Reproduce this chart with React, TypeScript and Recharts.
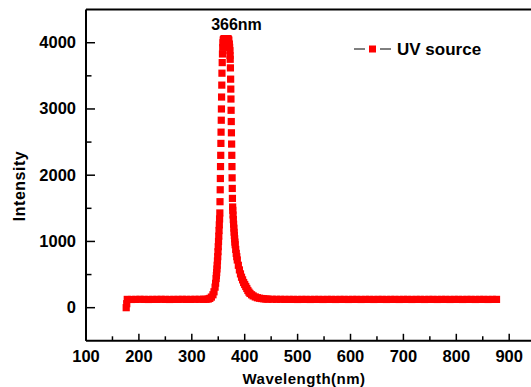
import { LineChart, Line, XAxis, YAxis, ReferenceLine } from 'recharts';

// spectrum of the UV source as [wavelength nm, intensity]
const startSegment: [number, number][] = [
  [176, 0], [177, 60], [178, 125], [186, 124], [194, 125], [202, 126], [210, 125],
  [218, 124], [226, 125], [234, 125], [242, 126], [250, 125], [258, 124], [266, 125],
  [274, 125], [282, 126], [290, 125], [298, 125], [306, 126], [314, 126], [322, 127],
];

const footLeft: [number, number][] = [
  [327, 127], [331, 130], [334, 140], [337, 160], [340, 195], [342, 240], [344, 310],
  [345, 370], [346, 440], [346.5, 485], [347, 530], [347.5, 585], [348, 640], [348.5, 705],
  [349, 770], [349.5, 845], [350, 920], [350.5, 1000], [351, 1080], [351.5, 1165],
  [352, 1250], [352.5, 1340],
];

const riseSegment: [number, number][] = [
  [353, 1430], [353.3, 1600], [353.7, 1780], [354, 1950], [354.3, 2130], [354.7, 2300],
  [355, 2480], [355.3, 2650], [355.7, 2830], [356, 3000], [356.3, 3180], [356.7, 3360],
  [357, 3540], [357.5, 3700], [358, 3830], [358.5, 3930], [359, 4000], [359.5, 4040],
];

const topSegment: [number, number][] = [
  [360, 4050], [361, 4060], [362, 4060], [363, 4060], [364, 4060], [365, 4060],
  [366, 4060], [367, 4060], [368, 4060], [369, 4055], [370, 4040],
];

const fallSegment: [number, number][] = [
  [371, 3980], [371.5, 3930], [372, 3880], [372.3, 3810], [372.6, 3750], [373, 3620],
  [373.4, 3450], [373.7, 3300], [374, 3150], [374.3, 2980], [374.6, 2810], [374.9, 2640],
  [375.3, 2470], [375.6, 2300], [375.9, 2130], [376.2, 1960], [376.5, 1800], [376.8, 1650],
  [377.2, 1520], [377.5, 1470], [378, 1400], [378.5, 1330], [379, 1260], [379.5, 1200],
  [380, 1140], [380.5, 1090], [381, 1040], [381.5, 990], [382, 950], [383, 880],
  [384, 820], [385, 770], [386, 720], [388, 640], [390, 570], [392, 510], [394, 460],
  [396, 420], [398, 380], [400, 350], [402, 320], [404, 290], [406, 260], [408, 235],
  [410, 215], [413, 195], [416, 178], [420, 162], [424, 150], [428, 143], [432, 138],
  [436, 134], [440, 131],
];

const tailSegment: [number, number][] = [
  [444, 129], [452, 127], [460, 126], [468, 126], [476, 125], [484, 125], [492, 125],
  [500, 124], [508, 125], [516, 125], [524, 124], [532, 125], [540, 125], [548, 124],
  [556, 125], [564, 125], [572, 124], [580, 125], [588, 125], [596, 124], [604, 125],
  [612, 125], [620, 124], [628, 125], [636, 125], [644, 124], [652, 125], [660, 125],
  [668, 124], [676, 125], [684, 125], [692, 124], [700, 125], [708, 125], [716, 124],
  [724, 125], [732, 125], [740, 124], [748, 125], [756, 125], [764, 124], [772, 125],
  [780, 125], [788, 124], [796, 125], [804, 125], [812, 124], [820, 125], [828, 125],
  [836, 124], [844, 125], [852, 125], [860, 124], [868, 125], [876, 125],
];

const xTicks = [100, 150, 200, 250, 300, 350, 400, 450, 500, 550, 600, 650, 700, 750, 800, 850, 900];
const yTicks = [0, 500, 1000, 1500, 2000, 2500, 3000, 3500, 4000];

const peakLabel = '366nm';
const seriesName = 'UV source';

const data = [...startSegment, ...footLeft, ...riseSegment, ...topSegment, ...fallSegment, ...tailSegment]
  .map(([nm, value]) => ({ nm, value }));

const font = '"Liberation Sans", Arial, sans-serif';

const XTick = (props: any) => {
  const { x, y, payload } = props;
  const major = payload.value % 100 === 0;
  return (
    <g>
      <line x1={x} x2={x} y1={y} y2={y - (major ? 7 : 4.5)} stroke="#000" strokeWidth={1.5} />
      {major && (
        <text x={x} y={y + 21} textAnchor="middle" fontFamily={font} fontWeight="bold" fontSize={16.5} fill="#000">
          {payload.value}
        </text>
      )}
    </g>
  );
};

const YTick = (props: any) => {
  const { x, y, payload } = props;
  const major = payload.value % 1000 === 0;
  return (
    <g>
      <line x1={x} x2={x + (major ? 9 : 5.5)} y1={y} y2={y} stroke="#000" strokeWidth={1.5} />
      {major && (
        <text x={x - 10} y={y + 5.5} textAnchor="end" fontFamily={font} fontWeight="bold" fontSize={16.5} fill="#000">
          {payload.value}
        </text>
      )}
    </g>
  );
};

const renderSquare = (p: any) => {
  if (p.cx == null || p.cy == null) return <g key={`sq-${p.index}`} />;
  return <rect key={`sq-${p.index}`} x={p.cx - 3.6} y={p.cy - 3.6} width={7.2} height={7.2} fill="#ff0000" />;
};

export default function App() {
  return (
    <div style={{ position: 'fixed', left: 0, top: 0, width: 531, height: 387, background: '#fff' }}>
      <LineChart width={531} height={387} data={data} margin={{ top: 9.6, right: 0, bottom: 0, left: 0 }}>
        <XAxis
          type="number"
          dataKey="nm"
          domain={[100, 941.2]}
          ticks={xTicks}
          interval={0}
          allowDataOverflow
          height={46.2}
          tickSize={0}
          tickMargin={0}
          tickLine={false}
          axisLine={{ stroke: '#000', strokeWidth: 2 }}
          tick={<XTick />}
        />
        <YAxis
          type="number"
          domain={[-500, 4500]}
          ticks={yTicks}
          interval={0}
          allowDataOverflow
          width={86}
          tickSize={0}
          tickMargin={0}
          tickLine={false}
          axisLine={{ stroke: '#000', strokeWidth: 2 }}
          tick={<YTick />}
        />
        <ReferenceLine y={4500} stroke="#000" strokeWidth={2} />
        <Line
          type="linear"
          dataKey="value"
          name={seriesName}
          stroke="none"
          dot={renderSquare}
          isAnimationActive={false}
        />
      </LineChart>
      <svg width={531} height={387} style={{ position: 'absolute', left: 0, top: 0, pointerEvents: 'none' }}>
        <text x={236.5} y={30} textAnchor="middle" fontFamily={font} fontWeight="bold" fontSize={16} fill="#000">
          {peakLabel}
        </text>
        <line x1={354} x2={365} y1={49} y2={49} stroke="#000" strokeWidth={1} />
        <rect x={369} y={45.5} width={7} height={7} fill="#ff0000" />
        <line x1={380} x2={391} y1={49} y2={49} stroke="#000" strokeWidth={1} />
        <text x={397} y={55} fontFamily={font} fontWeight="bold" fontSize={17} fill="#000">
          {seriesName}
        </text>
        <text
          transform="translate(25,186) rotate(-90)"
          textAnchor="middle"
          fontFamily={font}
          fontWeight="bold"
          fontSize={16}
          letterSpacing={0.5}
          fill="#000"
        >
          Intensity
        </text>
        <text x={304} y={384} textAnchor="middle" fontFamily={font} fontWeight="bold" fontSize={15} letterSpacing={0.5} fill="#000">
          Wavelength(nm)
        </text>
      </svg>
    </div>
  );
}
